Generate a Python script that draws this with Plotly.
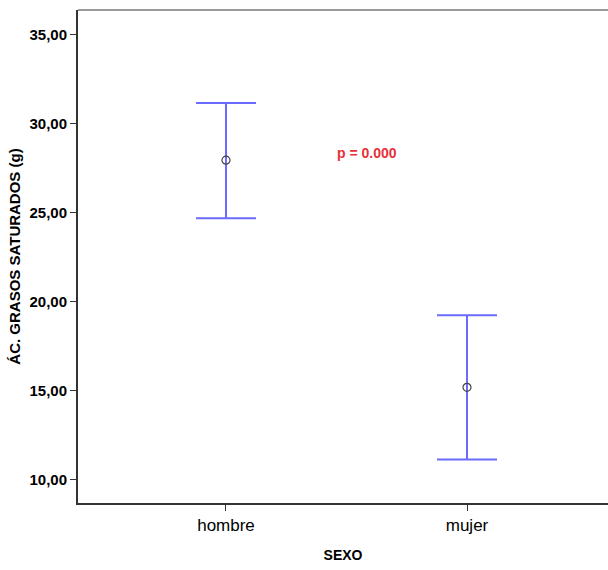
import plotly.graph_objects as go

categories = ["hombre", "mujer"]
means = [27.94, 15.17]
upper = [31.15, 19.22]
lower = [24.68, 11.12]
y_ticks = [10, 15, 20, 25, 30, 35]
y_tick_labels = ["10,00", "15,00", "20,00", "25,00", "30,00", "35,00"]
annotation_text = "p = 0.000"

err_plus = [u - m for u, m in zip(upper, means)]
err_minus = [m - l for m, l in zip(means, lower)]

fig = go.Figure()
fig.add_trace(go.Scatter(
    x=[0, 1], y=means, mode="markers",
    marker=dict(symbol="circle-open", size=8, color="#444444", line=dict(width=1.2, color="#444444")),
    error_y=dict(type="data", symmetric=False, array=err_plus, arrayminus=err_minus,
                 color="#6b6bff", thickness=2, width=30),
    showlegend=False, hoverinfo="skip",
))

fig.add_annotation(x=0.585, y=28.35, xref="x", yref="y", text="<b>" + annotation_text + "</b>",
                   showarrow=False, font=dict(family="Liberation Sans, Arial", size=14, color="#e8303a"))

fig.update_layout(
    width=608, height=570,
    margin=dict(l=78, r=0, t=10, b=67),
    plot_bgcolor="white", paper_bgcolor="white",
    font=dict(family="Liberation Sans, Arial", color="black"),
    xaxis=dict(
        range=[-0.614, 1.585], tickmode="array", tickvals=[0, 1], ticktext=categories,
        ticks="outside", ticklen=6, tickcolor="#333", tickwidth=1,
        tickfont=dict(size=17, color="black"),
        showgrid=False, zeroline=False,
        showline=True, linecolor="#333", linewidth=2, mirror=False,
        title=dict(text="<b>SEXO</b>", font=dict(size=14), standoff=16),
    ),
    yaxis=dict(
        range=[8.67, 36.38], tickmode="array", tickvals=y_ticks,
        ticktext=["<b>" + t + "</b>" for t in y_tick_labels],
        ticks="outside", ticklen=6, tickcolor="#333", tickwidth=1,
        tickfont=dict(size=15, color="black"),
        showgrid=False, zeroline=False,
        showline=True, linecolor="#333", linewidth=2,
        title=dict(text="<b>ÁC. GRASOS SATURADOS (g)</b>", font=dict(size=15), standoff=5),
    ),
)
fig.add_shape(type="line", xref="paper", yref="paper", x0=0, x1=1, y0=1, y1=1,
              line=dict(color="#999999", width=2))

fig.write_html("out.html", config={"displayModeBar": False},
               post_script="document.body.style.margin='0';document.body.style.overflow='hidden';")
